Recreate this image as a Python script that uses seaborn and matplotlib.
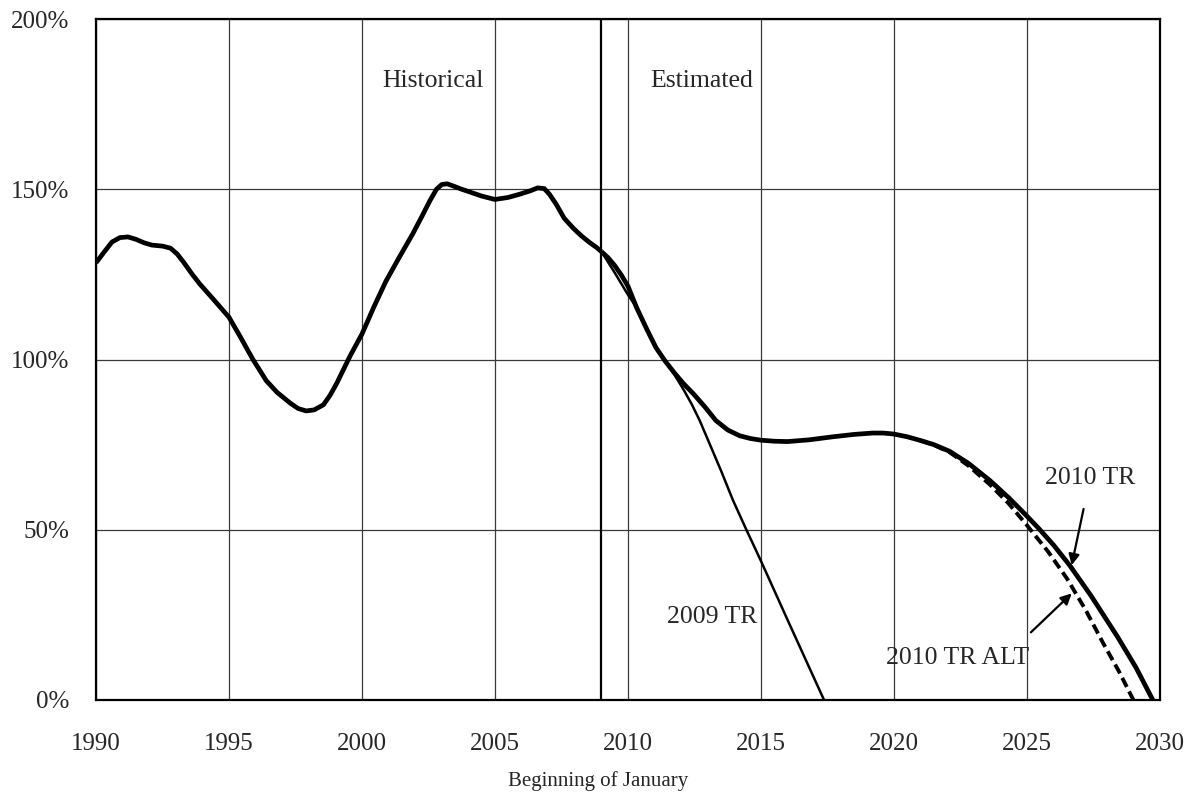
import numpy as np
import pandas as pd
import matplotlib
matplotlib.use("Agg")
import matplotlib.pyplot as plt
from matplotlib.ticker import MultipleLocator, FuncFormatter
import seaborn as sns

# values (year, trust fund ratio in %)
hist_years = [1990.0, 1990.3, 1990.6, 1990.9, 1991.2, 1991.5, 1991.8, 1992.1, 1992.5, 1992.8,
              1993.05, 1993.3, 1993.6, 1993.9, 1994.4, 1995.0, 1995.4, 1995.9, 1996.4, 1996.8,
              1997.3, 1997.6, 1997.9, 1998.2, 1998.55, 1998.8, 1999.05, 1999.3, 1999.55, 2000.0,
              2000.45, 2000.9, 2001.4, 2001.9, 2002.25, 2002.55, 2002.8, 2003.0, 2003.2, 2003.45,
              2003.75, 2004.05, 2004.5, 2005.0, 2005.5, 2005.95, 2006.35, 2006.6, 2006.85, 2007.05,
              2007.3, 2007.6, 2007.95, 2008.25, 2008.55, 2008.8, 2009.0]
hist_vals = [128.4, 131.5, 134.5, 135.8, 136.0, 135.3, 134.3, 133.6, 133.3, 132.7,
             131.0, 128.5, 125.2, 122.2, 117.8, 112.4, 107.0, 100.0, 93.8, 90.4,
             87.2, 85.6, 84.9, 85.2, 86.7, 89.5, 93.0, 97.0, 101.0, 107.5,
             115.5, 123.0, 130.0, 136.8, 142.0, 146.6, 150.0, 151.4, 151.6, 150.9,
             150.0, 149.2, 148.0, 147.0, 147.6, 148.6, 149.6, 150.4, 150.2, 148.5,
             145.6, 141.5, 138.5, 136.3, 134.4, 133.0, 131.7]

tr2010_years = [2009.0, 2009.25, 2009.5, 2009.75, 2010.0, 2010.32, 2010.7, 2011.05, 2011.4, 2011.75,
                2012.1, 2012.45, 2012.9, 2013.3, 2013.75, 2014.2, 2014.6, 2015.0, 2015.5, 2016.0,
                2016.8, 2017.7, 2018.5, 2019.2, 2019.6, 2020.0, 2020.5, 2021.0, 2021.5, 2022.1,
                2022.8, 2023.6, 2024.3, 2025.0, 2025.45, 2026.0, 2026.6, 2027.4, 2028.4, 2029.1,
                2029.73]
tr2010_vals = [131.7, 129.9, 127.6, 124.8, 121.5, 115.3, 109.0, 103.5, 99.5, 96.0,
               92.8, 90.0, 86.0, 82.1, 79.3, 77.6, 76.8, 76.3, 76.0, 75.9,
               76.4, 77.3, 78.0, 78.4, 78.4, 78.1, 77.3, 76.2, 75.0, 73.0,
               69.5, 64.5, 59.5, 54.0, 50.3, 45.5, 39.6, 30.7, 18.6, 9.5,
               0.0]

alt_years = [2021.0, 2021.5, 2022.1, 2022.8, 2023.6, 2024.3, 2025.0, 2025.8, 2026.5, 2027.2,
             2027.87, 2028.45, 2029.0]
alt_vals = [76.2, 74.9, 72.7, 68.8, 63.3, 57.8, 51.3, 43.5, 35.7, 26.5,
            16.6, 8.5, 0.0]

tr2009_years = [2009.0, 2009.5, 2010.0, 2010.32, 2010.7, 2011.05, 2011.4, 2011.75, 2012.1, 2012.4,
                2012.7, 2013.0, 2013.5, 2013.95, 2014.45, 2015.0, 2016.0, 2017.37]
tr2009_vals = [131.7, 125.5, 119.0, 115.3, 109.0, 103.5, 99.5, 95.5, 91.0, 86.8,
               82.0, 76.5, 67.3, 58.6, 50.0, 40.8, 23.5, 0.0]

hist = pd.DataFrame({"year": hist_years, "ratio": hist_vals})
tr2010 = pd.DataFrame({"year": tr2010_years, "ratio": tr2010_vals})
alt = pd.DataFrame({"year": alt_years, "ratio": alt_vals})
tr2009 = pd.DataFrame({"year": tr2009_years, "ratio": tr2009_vals})

sns.set_style("white")
plt.rcParams["font.family"] = ["Liberation Serif", "DejaVu Serif"]

fig = plt.figure(figsize=(11.95, 8.09), dpi=100)
ax = fig.add_axes([96 / 1195, 1 - 700 / 809, (1160 - 96) / 1195, (700 - 19) / 809])

# grid + the historical/estimated divider
ax.set_axisbelow(True)
ax.grid(True, which="major", color="#3a3a3a", lw=0.9)
ax.axvline(2009, color="black", lw=1.6, zorder=1)

sns.lineplot(data=alt, x="year", y="ratio", ax=ax, color="black", lw=2.8,
             linestyle=(0, (2.6, 1.3)), zorder=3)
sns.lineplot(data=tr2009, x="year", y="ratio", ax=ax, color="black", lw=1.8, zorder=3)
sns.lineplot(data=tr2010, x="year", y="ratio", ax=ax, color="black", lw=3.4, zorder=4)
sns.lineplot(data=hist, x="year", y="ratio", ax=ax, color="black", lw=3.4, zorder=4)
for ln in ax.lines:
    ln.set_solid_joinstyle("round")
    ln.set_solid_capstyle("butt")

ax.set_xlim(1990, 2030)
ax.set_ylim(0, 200)
ax.xaxis.set_major_locator(MultipleLocator(5))
ax.xaxis.set_minor_locator(MultipleLocator(1))
ax.yaxis.set_major_locator(MultipleLocator(50))
ax.yaxis.set_minor_locator(MultipleLocator(10))
ax.yaxis.set_major_formatter(FuncFormatter(lambda v, p: f"{v:.0f}%"))

ax.tick_params(which="both", direction="in", top=False, right=False,
               length=5, width=1.3, color="black", labelsize=18)
ax.tick_params(axis="y", pad=19)
ax.tick_params(axis="x", pad=24)
for s in ax.spines.values():
    s.set_linewidth(1.6)
    s.set_color("black")

ax.set_ylabel("")
ax.set_xlabel("")
fig.text(598 / 1195, 1 - 781 / 809, "Beginning of January", fontsize=15,
         ha="center", va="center")

ax.text(2002.67, 181.8, "Historical", fontsize=18.5, ha="center", va="center")
ax.text(2012.77, 181.8, "Estimated", fontsize=18.5, ha="center", va="center")
ax.text(2013.16, 24.3, "2009 TR", fontsize=18.5, ha="center", va="center")
ax.annotate("2010 TR", xy=(2026.68, 39.6), xytext=(2027.37, 65.1), fontsize=18.5,
            ha="center", va="center",
            arrowprops=dict(arrowstyle="-|>", color="black", lw=1.6, mutation_scale=16,
                            shrinkA=12, shrinkB=0))
ax.annotate("2010 TR ALT", xy=(2026.68, 31.3), xytext=(2022.41, 12.3), fontsize=18.5,
            ha="center", va="center",
            arrowprops=dict(arrowstyle="-|>", color="black", lw=1.6, mutation_scale=16,
                            shrinkA=12, shrinkB=0, relpos=(0.9, 1.0)))

fig.savefig("out.png", dpi=100)
